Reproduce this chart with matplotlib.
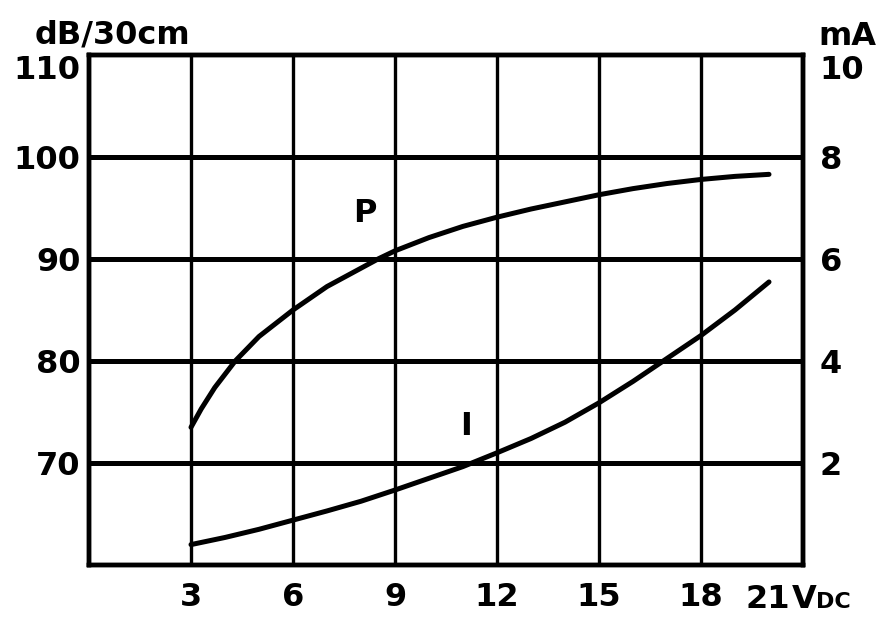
import matplotlib
matplotlib.use("Agg")
import matplotlib.pyplot as plt

# ── data ──────────────────────────────────────────────────────────────────────
volts_p = [3, 3.3, 3.7, 4.3, 5, 6, 7, 8, 8.5, 9, 10, 11, 12, 13, 14, 15, 16, 17, 18, 19, 20]
spl_db  = [73.5, 75.3, 77.4, 80, 82.4, 85, 87.3, 89.1, 90, 90.8, 92.1, 93.2, 94.1,
           94.9, 95.6, 96.3, 96.9, 97.4, 97.8, 98.1, 98.3]

volts_i = [3, 4, 5, 6, 7, 8, 9, 10, 11, 12, 13, 14, 15, 16, 17, 18, 19, 20]
curr_ma = [0.4, 0.54, 0.7, 0.88, 1.06, 1.25, 1.47, 1.7, 1.93, 2.2, 2.48, 2.8,
           3.18, 3.6, 4.05, 4.5, 5.0, 5.55]

x_ticks  = [3, 6, 9, 12, 15, 18]
db_ticks = [70, 80, 90, 100, 110]
ma_ticks = [2, 4, 6, 8, 10]

FS = 23
plt.rcParams["font.family"] = ["DejaVu Sans"]
plt.rcParams["font.weight"] = "bold"

fig = plt.figure(figsize=(8.93, 6.28), dpi=100)
ax = fig.add_axes([89/893, 63/628, 714/893, 510/628])
ax2 = ax.twinx()

ax.set_xlim(0, 21)
ax.set_ylim(60, 110)
ax2.set_ylim(0, 10)

# grid
for x in x_ticks:
    ax.axvline(x, color="black", lw=2.4, zorder=1)
for y in db_ticks[:-1]:
    ax.axhline(y, color="black", lw=3.6, zorder=1)

for a in (ax, ax2):
    for s in a.spines.values():
        s.set_linewidth(3.2)

# curves
ax.plot(volts_p, spl_db, color="black", lw=3.6, solid_capstyle="round", zorder=3)
ax2.plot(volts_i, curr_ma, color="black", lw=3.6, solid_capstyle="round", zorder=3)

ax.text(8.1, 94.5, "P", fontsize=FS, ha="center", va="center")
ax.text(11.1, 73.6, "I", fontsize=FS, ha="center", va="center")

# ticks
ax.set_xticks(x_ticks)
ax.set_xticklabels([str(v) for v in x_ticks], fontsize=FS)
ax.tick_params(axis="x", length=0, pad=12)

ax.set_yticks(db_ticks)
ax.set_yticklabels([str(v) for v in db_ticks], fontsize=FS)
ax.tick_params(axis="y", length=0, pad=6)
for lab in ax.get_yticklabels():
    if lab.get_text() == "110":
        lab.set_va("top")

ax2.set_yticks(ma_ticks)
ax2.set_yticklabels([str(v) for v in ma_ticks], fontsize=FS)
ax2.tick_params(axis="y", length=0, pad=12)
for lab in ax2.get_yticklabels():
    if lab.get_text() == "10":
        lab.set_va("top")

# 21 Vdc label under the right edge
xtr = ax.get_xaxis_transform()
ax.annotate("21", xy=(21, 0), xycoords=xtr, xytext=(-9, -31),
            textcoords="offset points", ha="right", va="baseline", fontsize=FS)
ax.annotate("V", xy=(21, 0), xycoords=xtr, xytext=(-8, -31),
            textcoords="offset points", ha="left", va="baseline", fontsize=FS)
ax.annotate("DC", xy=(21, 0), xycoords=xtr, xytext=(9, -31),
            textcoords="offset points", ha="left", va="baseline", fontsize=FS - 7)

# axis unit labels
ax.text(-0.076, 1.022, "dB/30cm", transform=ax.transAxes, fontsize=FS,
        ha="left", va="baseline")
ax.text(1.022, 1.02, "mA", transform=ax.transAxes, fontsize=FS,
        ha="left", va="baseline")

fig.savefig("out.png", dpi=100, facecolor="white")
